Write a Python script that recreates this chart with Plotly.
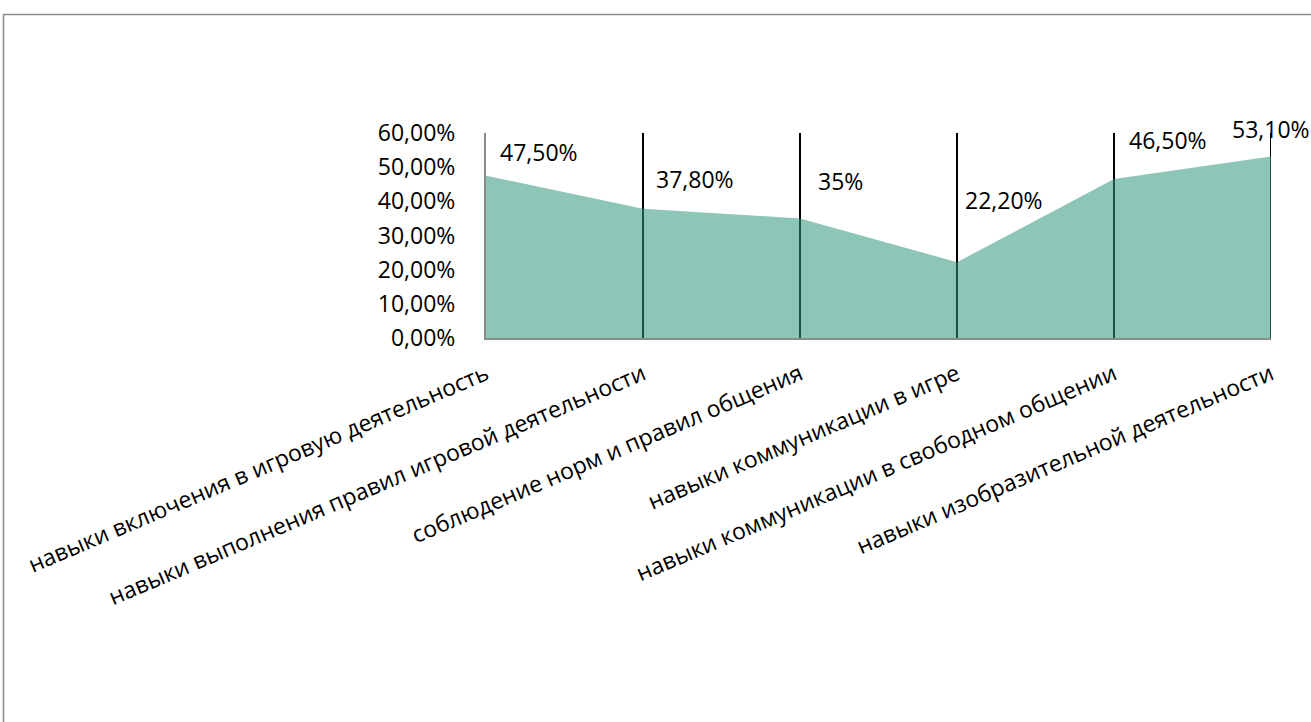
import plotly.graph_objects as go

categories = [
    "навыки включения в игровую деятельность",
    "навыки выполнения правил игровой деятельности",
    "соблюдение норм и правил общения",
    "навыки коммуникации в игре",
    "навыки коммуникации в свободном общении",
    "навыки изобразительной деятельности",
]
values = [0.475, 0.378, 0.35, 0.222, 0.465, 0.531]
value_labels = ["47,50%", "37,80%", "35%", "22,20%", "46,50%", "53,10%"]
y_ticks = [0, 0.1, 0.2, 0.3, 0.4, 0.5, 0.6]

# label placement (styling, in y-axis units)
label_y = [0.544, 0.465, 0.459, 0.404, 0.580, 0.612]
label_xshift = [12, 11, 16, 6, 13, -41]

FONT = "Open Sans"
W, H = 1311, 722
L, R, T, B = 486, 40, 133, 384
pw, ph = W - L - R, H - T - B
YMAX = 0.6

fig = go.Figure()

# vertical drop lines (drawn below the translucent area)
lx, ly = [], []
for c in categories[1:]:
    lx += [c, c, None]
    ly += [0, YMAX, None]
fig.add_trace(go.Scatter(x=lx, y=ly, mode="lines", line=dict(color="black", width=2),
                         hoverinfo="skip", showlegend=False))

fig.add_trace(go.Scatter(x=categories, y=values, mode="lines", fill="tozeroy",
                         line=dict(width=0, color="rgba(48,150,122,0.55)"),
                         fillcolor="rgba(48,150,122,0.55)", showlegend=False))

for i, (lab, ly_, xs) in enumerate(zip(value_labels, label_y, label_xshift)):
    fig.add_annotation(x=i / (len(categories) - 1), y=ly_ / YMAX, xref="paper", yref="paper",
                       text=lab, showarrow=False,
                       xanchor="left", yanchor="middle", xshift=xs,
                       font=dict(family=FONT, size=23, color="black"))

# outer chart border
fig.add_shape(type="rect", xref="paper", yref="paper",
              x0=(3.5 - L) / pw, x1=(1330 - L) / pw,
              y0=(H - B - 740) / ph, y1=(H - B - 14.5) / ph,
              line=dict(color="#8c8c8c", width=1.5), fillcolor="rgba(0,0,0,0)", layer="below")

fig.update_layout(
    width=W, height=H,
    margin=dict(l=L, r=R, t=T, b=B),
    paper_bgcolor="white", plot_bgcolor="white",
    separators=", ",
    font=dict(family=FONT, size=23, color="black"),
    xaxis=dict(type="category", categoryorder="array", categoryarray=categories,
               range=[0, 5], showgrid=False, zeroline=False,
               showline=True, linecolor="#8c8c8c", linewidth=2,
               ticks="", tickangle=-23, ticklabelstandoff=12,
               tickfont=dict(family=FONT, size=23)),
    yaxis=dict(range=[0, YMAX], tickvals=y_ticks, tickformat=".2%", showgrid=False,
               zeroline=False, showline=True, linecolor="#8c8c8c", linewidth=2,
               ticks="", ticklabelstandoff=24, tickfont=dict(family=FONT, size=23)),
)

fig.write_html("out.html", config={"displayModeBar": False},
               post_script="document.body.style.margin='0';")
